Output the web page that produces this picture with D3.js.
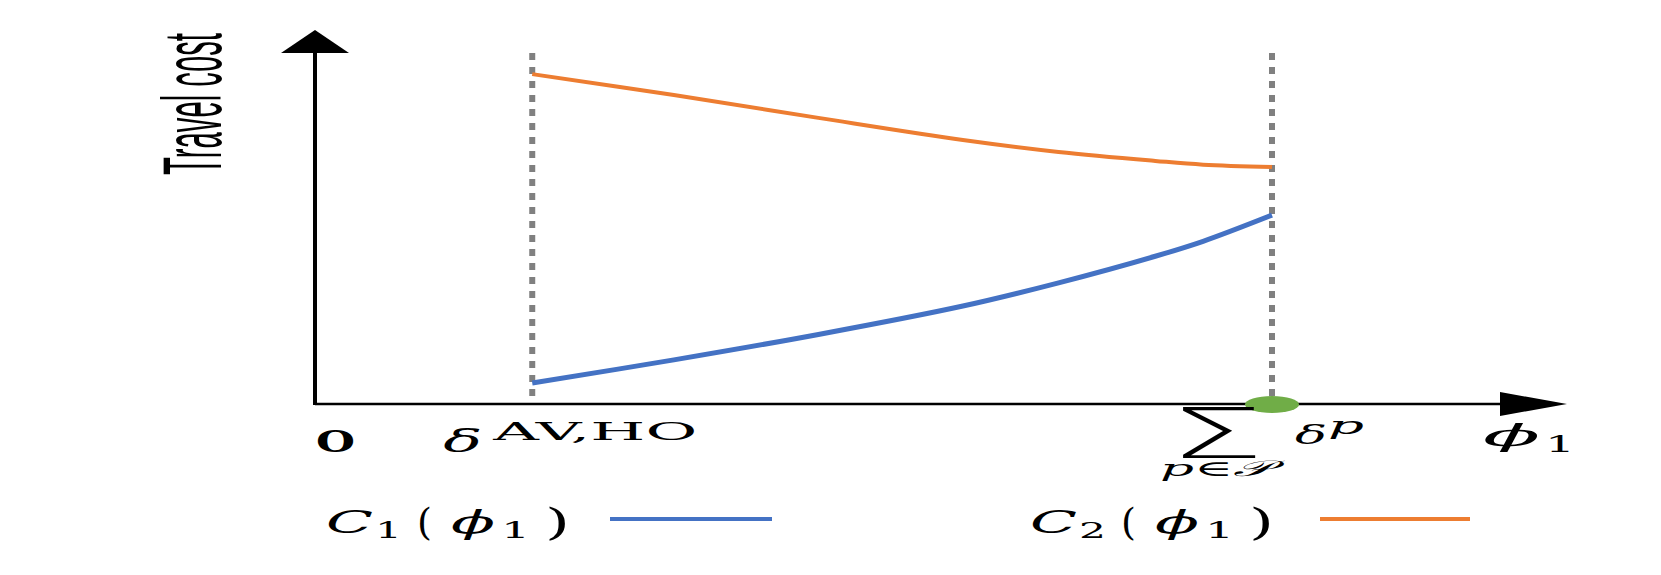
<!DOCTYPE html>
<html>
<head>
<meta charset="utf-8">
<script src="https://cdn.jsdelivr.net/npm/d3@7"></script>
<style>
  body { margin: 0; background: #fff; }
  text { font-family: "DejaVu Serif", serif; fill: #000; }
</style>
</head>
<body>
<div class="chart"></div>
<script>
// data (phi1 as % of total demand, cost in arbitrary units)
var phi = [22.7, 37.5, 52.6, 67.7, 77.7, 87.8, 92.8, 100];
var cost1 = [5.6, 11.8, 18.6, 26.2, 32.4, 39.5, 43.5, 50.5];
var cost2 = [88.2, 82.6, 76.5, 70.6, 67.4, 65.0, 64.0, 63.4];
var deltaAVHO = 22.7;
var totalDemand = 100;
var seriesSub = ["1", "2"];
var seriesColor = ["#4472c4", "#ed7d31"];

var svgx = 1661;
var svgy = 575;

var svg = d3.select(".chart")
    .append("svg")
    .attr("width", svgx)
    .attr("height", svgy);

var xscale = d3.scaleLinear().domain([0, 100]).range([315, 1272]);
var yscale = d3.scaleLinear().domain([0, 100]).range([404, 30]);

// little helper for squeezed/stretched text
function label(g, x, y, txt, size, w, italic, bold) {
    return g.append("text")
        .attr("x", x)
        .attr("y", y)
        .attr("font-size", size)
        .attr("font-style", italic ? "italic" : "normal")
        .attr("font-weight", bold ? "bold" : "normal")
        .attr("textLength", w)
        .attr("lengthAdjust", "spacingAndGlyphs")
        .text(txt);
}

// dotted verticals
svg.selectAll(".guide")
    .data([deltaAVHO, totalDemand])
    .enter()
    .append("line")
    .attr("class", "guide")
    .attr("x1", function(d) { return xscale(d); })
    .attr("x2", function(d) { return xscale(d); })
    .attr("y1", 53)
    .attr("y2", yscale(0))
    .attr("stroke", "#808080")
    .attr("stroke-width", 6)
    .attr("stroke-dasharray", "7,7");

// curves
var line = d3.line()
    .x(function(d) { return xscale(d[0]); })
    .y(function(d) { return yscale(d[1]); })
    .curve(d3.curveCatmullRom.alpha(0.5));

svg.append("path")
    .datum(d3.zip(phi, cost2))
    .attr("d", line)
    .attr("fill", "none")
    .attr("stroke", seriesColor[1])
    .attr("stroke-width", 4);

svg.append("path")
    .datum(d3.zip(phi, cost1))
    .attr("d", line)
    .attr("fill", "none")
    .attr("stroke", seriesColor[0])
    .attr("stroke-width", 5);

// axes with arrow heads
var x0 = xscale(0), y0 = yscale(0);
svg.append("line")
    .attr("x1", x0).attr("x2", 1502)
    .attr("y1", y0).attr("y2", y0)
    .attr("stroke", "#000").attr("stroke-width", 2.5);
svg.append("line")
    .attr("x1", x0).attr("x2", x0)
    .attr("y1", y0 + 1).attr("y2", 50)
    .attr("stroke", "#000").attr("stroke-width", 4);
svg.append("path")
    .attr("d", "M" + (x0 - 34) + ",53L" + x0 + ",30L" + (x0 + 34) + ",53Z")
    .attr("fill", "#000");
svg.append("path")
    .attr("d", "M1500," + (y0 - 12) + "L1567," + y0 + "L1500," + (y0 + 12) + "Z")
    .attr("fill", "#000");

// equilibrium point
svg.append("ellipse")
    .attr("cx", xscale(totalDemand))
    .attr("cy", y0 + 0.5)
    .attr("rx", 27)
    .attr("ry", 8.5)
    .attr("fill", "#70ad47");

// y label
svg.append("text")
    .attr("transform", "translate(221,104) rotate(-90)")
    .attr("text-anchor", "middle")
    .attr("font-size", 84)
    .attr("textLength", 142)
    .attr("lengthAdjust", "spacingAndGlyphs")
    .style("font-family", "'Liberation Sans Narrow', 'Liberation Sans', sans-serif")
    .text("Travel cost");

// x labels
var lab = svg.append("g");
label(lab, x0 + 1, 452, "O", 30, 39, false, true);
var xd = xscale(deltaAVHO);
label(lab, xd - 89, 452, "δ", 32, 39, true, false);
label(lab, xd - 39, 440, "AV,HO", 24, 204, false, false);
var xt = xscale(totalDemand);
label(lab, xt - 104, 458, "Σ", 70, 97, false, false)
    .style("font-family", "'DejaVu Sans', sans-serif")
    .attr("font-weight", 200);
label(lab, xt - 112, 476, "p∈𝒫", 22, 112, true, false);
label(lab, xt + 23, 444, "δ", 26, 32, true, false);
label(lab, xt + 56, 434, "p", 24, 36, true, false);
label(lab, 1483, 446, "ϕ", 30, 57, true, false);
label(lab, 1545, 452, "1", 22, 30, false, false);

// legend
var legendX = [326, 1030];
var lineX = [[610, 772], [1320, 1470]];
seriesSub.forEach(function(s, i) {
    var lx = legendX[i];
    var g = svg.append("g");
    label(g, lx, 533, "C", 32, 47, true, false);
    label(g, lx + 49, 538, s, 22, 27, false, false);
    label(g, lx + 91, 535, "(", 38, 15, false, false);
    label(g, lx + 125, 533, "ϕ", 32, 44, true, false);
    label(g, lx + 175, 538, "1", 22, 29, false, false);
    label(g, lx + 219, 535, ")", 38, 25, false, false);
    g.append("line")
        .attr("x1", lineX[i][0]).attr("x2", lineX[i][1])
        .attr("y1", 519).attr("y2", 519)
        .attr("stroke", seriesColor[i])
        .attr("stroke-width", 4);
});
</script>
</body>
</html>
